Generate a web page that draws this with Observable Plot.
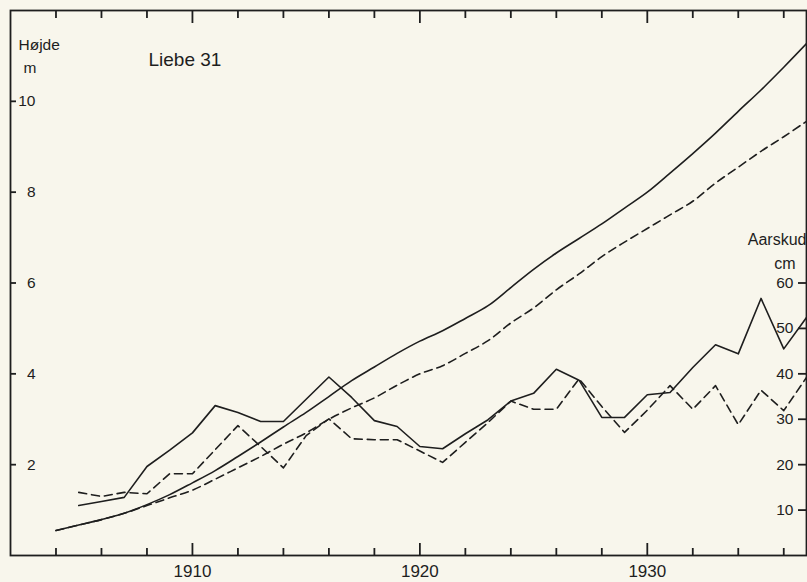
<!DOCTYPE html>
<html>
<head>
<meta charset="utf-8">
<script src="https://cdn.jsdelivr.net/npm/d3@7"></script>
<script src="https://cdn.jsdelivr.net/npm/@observablehq/plot@0.6"></script>
<style>
  html, body { margin: 0; padding: 0; background: #f8f6ec; }
  #chart svg { display: block; }
</style>
</head>
<body>
<div id="chart"></div>
<script>
// Height (m) – years
const years = [1904,1905,1906,1907,1908,1909,1910,1911,1912,1913,1914,1915,1916,1917,1918,1919,1920,
               1921,1922,1923,1924,1925,1926,1927,1928,1929,1930,1931,1932,1933,1934,1935,1936,1937];
// Height curve, solid (m)
const heightSolid = [0.55,0.67,0.79,0.93,1.12,1.34,1.60,1.87,2.18,2.50,2.83,3.15,3.50,3.85,4.15,4.45,4.72,
                     4.95,5.22,5.50,5.90,6.30,6.66,6.98,7.30,7.65,8.00,8.42,8.85,9.30,9.78,10.25,10.75,11.27];
// Height curve, dashed (m)
const heightDashed = [0.55,0.67,0.79,0.93,1.10,1.27,1.44,1.68,1.93,2.18,2.45,2.70,3.00,3.25,3.47,3.75,4.00,
                      4.18,4.45,4.73,5.12,5.45,5.85,6.20,6.58,6.90,7.20,7.50,7.80,8.20,8.55,8.90,9.22,9.56];

// Annual shoot (Aarskud, cm) – years
const shootYears = [1905,1906,1907,1908,1909,1910,1911,1912,1913,1914,1915,1916,1917,1918,1919,1920,
                    1921,1922,1923,1924,1925,1926,1927,1928,1929,1930,1931,1932,1933,1934,1935,1936,1937];
const shootSolid = [11.0,11.9,12.8,19.6,23.2,27.0,33.0,31.5,29.5,29.5,34.4,39.3,34.8,29.7,28.4,24.0,
                    23.5,26.8,29.9,34.0,35.7,41.0,38.6,30.4,30.4,35.4,35.9,41.4,46.4,44.4,56.6,45.5,52.4];
const shootDashed = [13.9,13.0,13.9,13.6,18.0,18.0,23.3,28.6,24.0,19.3,26.4,30.1,25.7,25.5,25.5,23.0,
                     20.5,24.9,29.3,34.0,32.2,32.2,38.9,32.8,27.1,32.0,37.4,32.2,37.4,28.8,36.4,31.9,39.2];

// Axis ticks
const xTicks = [1904,1906,1908,1910,1912,1914,1916,1918,1920,1922,1924,1926,1928,1930,1932,1934,1936];
const xLabels = [1910,1920,1930];
const heightTicks = [2,4,6,8,10];
const shootTicks = [10,20,30,40,50,60];

const ink = "#1e1e1e";
const font = "'Liberation Sans', Arial, sans-serif";

const heightRows = years.map((year, i) => ({year, solid: heightSolid[i], dashed: heightDashed[i]}));
const shootRows = shootYears.map((year, i) => ({year, solid: shootSolid[i], dashed: shootDashed[i]}));
const minorX = xTicks.filter(d => !xLabels.includes(d));
const blank = () => "";
const tk = {stroke: ink, strokeWidth: 1.8, tickFormat: blank, label: null};

const chart = Plot.plot({
  width: 807,
  height: 582,
  marginLeft: 10,
  marginRight: 1,
  marginTop: 10,
  marginBottom: 27,
  style: {background: "transparent", fontFamily: font, color: ink},
  x: {domain: [1902, 1937], axis: null},
  y: {domain: [0, 12], axis: null},
  marks: [
    // inward tick marks: standard axis ticks shifted back inside the frame
    Plot.axisX({anchor: "bottom", ticks: minorX, tickSize: 7, dy: -7, ...tk}),
    Plot.axisX({anchor: "bottom", ticks: xLabels, tickSize: 12, dy: -12, ...tk}),
    Plot.axisX({anchor: "top", ticks: minorX, tickSize: 7, dy: 7, ...tk}),
    Plot.axisX({anchor: "top", ticks: xLabels, tickSize: 12, dy: 12, ...tk}),
    Plot.axisY({anchor: "left", ticks: heightTicks, tickSize: 6, dx: 6, ...tk}),
    Plot.axisY({anchor: "right", ticks: shootTicks.map(d => d / 10), tickSize: 9, dx: -9, ...tk}),
    // tick labels
    Plot.axisX({ticks: xLabels, tickSize: 0, tickPadding: 9, fontSize: 17, tickFormat: d => String(d), label: null}),
    Plot.axisY({anchor: "left", ticks: heightTicks, tickSize: 0, tickPadding: -25, fontSize: 15.5, tickFormat: d => String(d), label: null}),
    Plot.axisY({anchor: "right", ticks: shootTicks.map(d => d / 10), tickSize: 0, tickPadding: -13, textAnchor: "end", fontSize: 15.5,
                tickFormat: d => String(Math.round(d * 10)), label: null}),
    // titles
    Plot.text(["Højde"], {frameAnchor: "top-left", dx: 8, dy: 28, textAnchor: "start", fontSize: 15.5, letterSpacing: 1, fill: ink}),
    Plot.text(["m"], {frameAnchor: "top-left", dx: 13, dy: 51, textAnchor: "start", fontSize: 15.5, fill: ink}),
    Plot.text(["Liebe 31"], {frameAnchor: "top-left", dx: 138, dy: 42, textAnchor: "start", fontSize: 19, letterSpacing: 1.5, fill: ink}),
    Plot.text(["Aarskud"], {frameAnchor: "top-right", dx: 0, dy: 223, textAnchor: "end", fontSize: 16, letterSpacing: 2.2, fill: ink}),
    Plot.text(["cm"], {frameAnchor: "top-right", dx: -11, dy: 247, textAnchor: "end", fontSize: 16, letterSpacing: 0.8, fill: ink}),
    // height curves
    Plot.line(heightRows, {x: "year", y: "solid", curve: "catmull-rom", stroke: ink, strokeWidth: 1.6}),
    Plot.line(heightRows, {x: "year", y: "dashed", curve: "catmull-rom", stroke: ink, strokeWidth: 1.6, strokeDasharray: "8,5"}),
    // annual shoot (cm on right axis: 10 cm ↔ 1 m)
    Plot.line(shootRows, {x: "year", y: d => d.solid / 10, stroke: ink, strokeWidth: 1.6}),
    Plot.line(shootRows, {x: "year", y: d => d.dashed / 10, stroke: ink, strokeWidth: 1.6, strokeDasharray: "8,5"}),
    Plot.frame({stroke: ink, strokeWidth: 1.8})
  ]
});
document.getElementById("chart").append(chart);
</script>
</body>
</html>
